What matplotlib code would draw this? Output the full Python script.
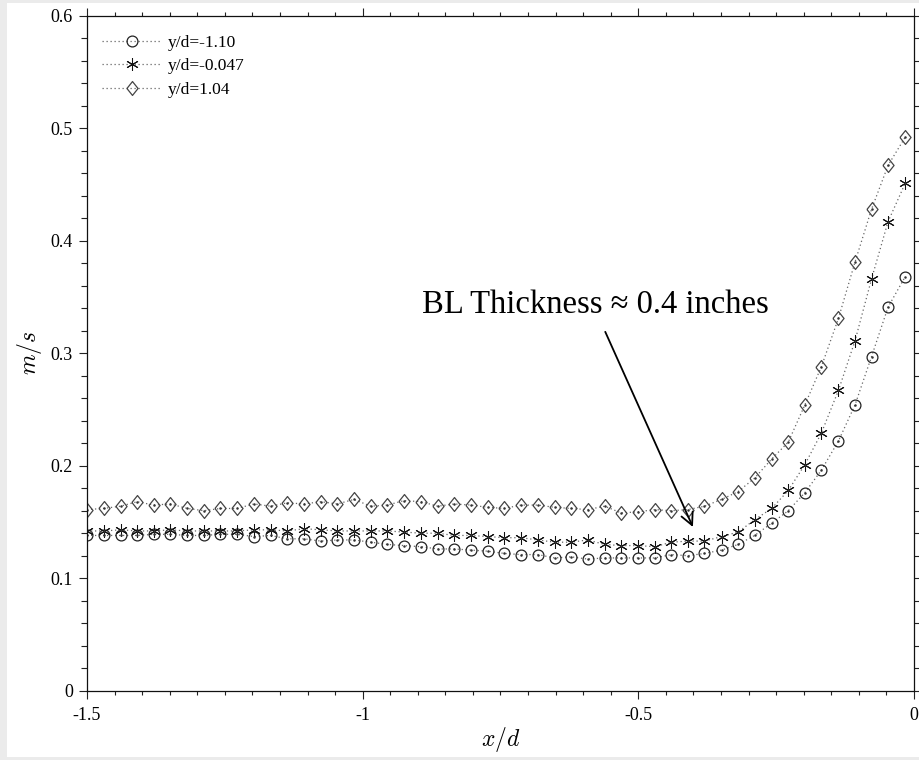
import matplotlib
matplotlib.use("Agg")
import matplotlib.pyplot as plt
from matplotlib.ticker import MultipleLocator, FuncFormatter
from matplotlib.patches import Rectangle

plt.rcParams['font.family'] = ['Liberation Serif', 'DejaVu Serif']
plt.rcParams['mathtext.fontset'] = 'cm'
plt.rcParams['axes.unicode_minus'] = False

# ---- data ----
x_d = [-1.500, -1.470, -1.439, -1.409, -1.379, -1.349, -1.318, -1.288, -1.258, -1.228,
       -1.197, -1.167, -1.137, -1.106, -1.076, -1.046, -1.016, -0.985, -0.955, -0.925,
       -0.894, -0.864, -0.834, -0.804, -0.773, -0.743, -0.713, -0.682, -0.652, -0.622,
       -0.592, -0.561, -0.531, -0.501, -0.470, -0.440, -0.410, -0.380, -0.349, -0.319,
       -0.289, -0.258, -0.228, -0.198, -0.168, -0.137, -0.107, -0.077, -0.047, -0.016]

v_neg110 = [0.138, 0.138, 0.138, 0.138, 0.139, 0.139, 0.138, 0.138, 0.139, 0.139,
            0.137, 0.138, 0.135, 0.135, 0.133, 0.134, 0.134, 0.132, 0.130, 0.129,
            0.128, 0.126, 0.126, 0.125, 0.124, 0.122, 0.121, 0.121, 0.118, 0.119,
            0.117, 0.118, 0.118, 0.118, 0.118, 0.121, 0.120, 0.122, 0.125, 0.130,
            0.138, 0.149, 0.160, 0.176, 0.196, 0.222, 0.254, 0.297, 0.341, 0.368]

v_neg0047 = [0.142, 0.142, 0.143, 0.142, 0.142, 0.143, 0.142, 0.142, 0.142, 0.142,
             0.143, 0.143, 0.142, 0.144, 0.143, 0.142, 0.142, 0.142, 0.142, 0.141,
             0.140, 0.140, 0.138, 0.138, 0.137, 0.136, 0.136, 0.134, 0.132, 0.132,
             0.134, 0.130, 0.129, 0.129, 0.128, 0.132, 0.133, 0.133, 0.137, 0.141,
             0.152, 0.162, 0.178, 0.201, 0.229, 0.267, 0.311, 0.366, 0.417, 0.451]

v_104 = [0.161, 0.162, 0.164, 0.168, 0.165, 0.166, 0.162, 0.160, 0.162, 0.162,
         0.166, 0.164, 0.167, 0.166, 0.168, 0.166, 0.170, 0.164, 0.165, 0.169,
         0.168, 0.164, 0.166, 0.165, 0.163, 0.162, 0.165, 0.165, 0.163, 0.162,
         0.161, 0.164, 0.158, 0.159, 0.161, 0.160, 0.161, 0.164, 0.170, 0.177,
         0.189, 0.206, 0.221, 0.254, 0.288, 0.331, 0.381, 0.428, 0.467, 0.492]

labels = ['y/d=-1.10', 'y/d=-0.047', 'y/d=1.04']
x_ticks = [-1.5, -1.0, -0.5, 0.0]
y_ticks = [0.0, 0.1, 0.2, 0.3, 0.4, 0.5, 0.6]
annotation_text = 'BL Thickness \u2248 0.4 inches'

# ---- figure ----
fig = plt.figure(figsize=(9.2, 7.6), dpi=100, facecolor='#ebebeb')
fig.patches.append(Rectangle((7/920, 3/760), 1, 1 - 6/760,
                             transform=fig.transFigure, facecolor='white',
                             edgecolor='none', zorder=-10))
ax = fig.add_axes([87/920, 1 - 690.7/760, 827/920, 675/760])

diamond = [(-0.8, 0), (0, 1), (0.8, 0), (0, -1), (-0.8, 0)]
line_kw = dict(linestyle=(0, (1, 2.2)), linewidth=0.9, color='#666666',
               markerfacecolor='none')

ax.plot(x_d, v_neg110, marker='o', markersize=7.8, markeredgecolor='#222222',
        markeredgewidth=0.9, label=labels[0], **line_kw)
ax.plot(x_d, v_neg0047, marker=(6, 2, 0), markersize=9, markeredgecolor='#111111',
        markeredgewidth=0.75, label=labels[1], **line_kw)
ax.plot(x_d, v_104, marker=diamond, markersize=10, markeredgecolor='#444444',
        markeredgewidth=0.9, label=labels[2], **line_kw)
for ys in (v_neg110, v_neg0047, v_104):
    ax.plot(x_d, ys, linestyle='none', marker='.', markersize=1.6, color='#333333')

ax.set_xlim(-1.5, 0.0)
ax.set_ylim(0.0, 0.6)
ax.set_xticks(x_ticks)
ax.set_yticks(y_ticks)
ax.xaxis.set_minor_locator(MultipleLocator(0.05))
ax.yaxis.set_minor_locator(MultipleLocator(0.02))
ax.xaxis.set_major_formatter(FuncFormatter(lambda v, p: '%g' % v if abs(v) > 1e-9 else '0'))
ax.yaxis.set_major_formatter(FuncFormatter(lambda v, p: '%.1f' % v if abs(v) > 1e-9 else '0'))

ax.tick_params(which='both', direction='out', top=True, right=True, labelsize=13,
               width=0.8, color='#222222')
ax.tick_params(axis='x', which='major', length=6, pad=6)
ax.tick_params(axis='x', which='minor', length=2.6)
ax.tick_params(axis='y', which='major', length=6, pad=4)
ax.tick_params(axis='y', which='minor', length=4)
for s in ax.spines.values():
    s.set_linewidth(0.9)
    s.set_color('#111111')

ax.set_xlabel('$x/d$', fontsize=17, va='center')
ax.set_ylabel('$m/s$', fontsize=17, va='center')
ax.xaxis.set_label_coords(0.5, -0.073)
ax.yaxis.set_label_coords(-0.070, 0.5)

ax.text(-0.578, 0.343, annotation_text, fontsize=23.5, ha='center', va='center')
ax.annotate('', xy=(-0.401, 0.1455), xytext=(-0.560, 0.319),
            arrowprops=dict(arrowstyle='->', color='black', lw=1.3,
                            mutation_scale=22, shrinkA=0, shrinkB=0))

ax.legend(loc='upper left', bbox_to_anchor=(0.003, 0.99), frameon=False,
          fontsize=12.5, handlelength=3.5, handletextpad=0.3, labelspacing=0.42,
          numpoints=1, borderaxespad=0.3)

fig.savefig('out.png', dpi=100, facecolor=fig.get_facecolor())
